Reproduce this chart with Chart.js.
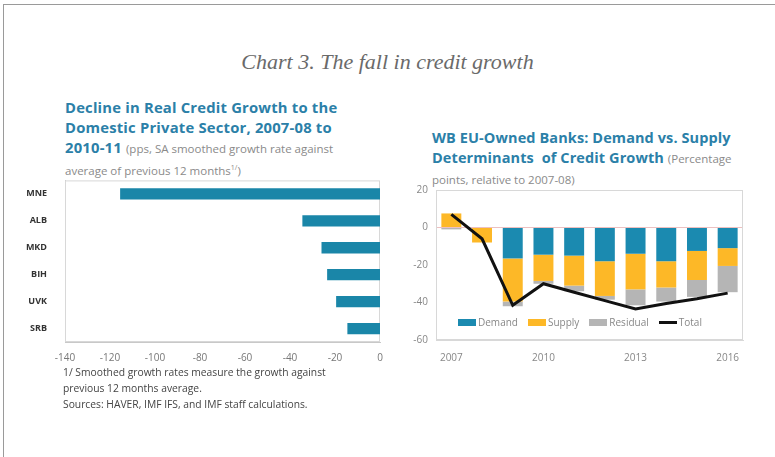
<!DOCTYPE html>
<html>
<head>
<meta charset="utf-8">
<script src="https://cdn.jsdelivr.net/npm/chart.js@4"></script>
<style>
  html, body { margin: 0; padding: 0; background: #fff; }
  body { width: 775px; height: 457px; position: relative; overflow: hidden; font-family: "Open Sans", sans-serif; }
  .frame { position: absolute; left: 3px; top: 4px; right: -2px; bottom: -2px; border-top: 1px solid #9a9a9a; border-left: 1px solid #9a9a9a; }
  .main-title { position: absolute; left: 0; width: 775px; top: 49px; text-align: center; font-family: "Liberation Serif", serif; font-style: italic; font-size: 22px; color: #6a6a6a; }
  .panel-title { position: absolute; font-weight: bold; color: #2b80a8; line-height: 20px; white-space: nowrap; }
  .panel-title .sub { font-weight: normal; color: #8a8a8a; font-size: 11.5px; letter-spacing: 0; }
  .note { position: absolute; left: 63px; top: 364px; font-size: 10.3px; color: #444; line-height: 16px; white-space: nowrap; }
  .legend { position: absolute; left: 458px; top: 315px; display: flex; align-items: center; font-size: 10px; color: #888; white-space: nowrap; }
  .legend span.box { display: inline-block; width: 18px; height: 7px; margin-right: 2px; }
  .legend span.ln { display: inline-block; width: 18px; height: 3px; background: #111; margin-right: 2px; }
  .legend .item { margin-right: 10px; display: flex; align-items: center; }
  canvas { position: absolute; }
</style>
</head>
<body>
<div class="frame"></div>
<div class="main-title">Chart 3. The fall in credit growth</div>

<div class="panel-title" style="left:65px; top:97px; font-size:14.8px; letter-spacing:0.2px;">
  Decline in Real Credit Growth to the<br>
  Domestic Private Sector, 2007-08 to<br>
  2010-11 <span class="sub">(pps, SA smoothed growth rate against</span><br>
  <span class="sub" style="line-height:16px">average of previous 12 months<sup style="font-size:7px; line-height:0">1/</sup>)</span>
</div>

<div class="panel-title" style="left:432px; top:128px; font-size:14.5px; letter-spacing:0.1px;">
  WB EU-Owned Banks: Demand vs. Supply<br>
  Determinants&nbsp; of Credit Growth <span class="sub">(Percentage</span><br>
  <span class="sub">points, relative to 2007-08)</span>
</div>

<canvas id="declineChart" width="375" height="201" style="left:15px; top:165px;"></canvas>
<canvas id="banksChart" width="360" height="187" style="left:395px; top:176px;"></canvas>

<div class="legend">
  <div class="item"><span class="box" style="background:#1b8ab0"></span>Demand</div>
  <div class="item"><span class="box" style="background:#fdb827"></span>Supply</div>
  <div class="item"><span class="box" style="background:#b5b5b5"></span>Residual</div>
  <div class="item"><span class="ln"></span>Total</div>
</div>

<div class="note">
  1/ Smoothed growth rates measure the growth against<br>
  previous 12 months average.<br>
  Sources: HAVER, IMF IFS, and IMF staff calculations.
</div>

<script>
// left panel: decline in real credit growth, pps
const countries = ['MNE', 'ALB', 'MKD', 'BIH', 'UVK', 'SRB'];
const declineValues = [-115.5, -34.5, -26, -23.5, -19.5, -14.5];

// right panel: demand vs supply decomposition, percentage points
const years = ['2007', '2008', '2009', '2010', '2011', '2012', '2013', '2014', '2015', '2016'];
const demand = [0, 0, -16.5, -14.5, -15, -18, -14, -18, -12.5, -11];
const supply = [7.5, -8, -23, -14, -16, -18.5, -19, -14, -15.5, -9.5];
const residual = [-1, 0, -2.5, -1.5, -3, -2, -8.5, -7.5, -9, -14];
const total = [7, -6, -41.5, -30, -34.5, -39, -43.5, -40.5, -38, -35];

const yTicksRight = [20, 0, -20, -40, -60];

// thin box round the plot area
const plotFrame = {
  id: 'plotFrame',
  beforeDatasetsDraw(chart) {
    const { ctx, chartArea: a } = chart;
    ctx.save();
    ctx.strokeStyle = '#d8d8d8';
    ctx.lineWidth = 1;
    ctx.strokeRect(a.left + 0.5, a.top + 0.5, a.width - 1, a.height - 1);
    ctx.restore();
  }
};

Chart.defaults.font.family = '"Open Sans", sans-serif';
Chart.defaults.animation = false;

new Chart(document.getElementById('declineChart'), {
  type: 'bar',
  data: {
    labels: countries,
    datasets: [{
      data: declineValues,
      backgroundColor: '#1a86a8',
      barPercentage: 0.42,
      categoryPercentage: 1,
    }],
  },
  options: {
    indexAxis: 'y',
    responsive: false,
    layout: { padding: { top: 5, right: 10 } },
    plugins: { legend: { display: false }, tooltip: { enabled: false } },
    scales: {
      x: {
        min: -140,
        max: 0,
        ticks: { stepSize: 20, color: '#777', font: { size: 10 }, padding: 2 },
        grid: { display: false },
        border: { color: '#c8c8c8' },
        afterFit: (s) => { s.height = 24; },
      },
      y: {
        ticks: { color: '#333', font: { size: 9, weight: 'bold' }, padding: 10 },
        grid: { display: false },
        border: { color: '#c8c8c8' },
        afterFit: (s) => { s.width = 50; },
      },
    },
  },
  plugins: [plotFrame],
});

new Chart(document.getElementById('banksChart'), {
  type: 'bar',
  data: {
    labels: years,
    datasets: [
      { type: 'line', label: 'Total', data: total, borderColor: '#111', borderWidth: 3, pointRadius: 0, tension: 0, order: 0 },
      { label: 'Demand', data: demand, backgroundColor: '#1b8ab0', order: 1 },
      { label: 'Supply', data: supply, backgroundColor: '#fdb827', order: 1 },
      { label: 'Residual', data: residual, backgroundColor: '#b5b5b5', order: 1 },
    ],
  },
  options: {
    responsive: false,
    layout: { padding: { top: 10, right: 12 } },
    datasets: { bar: { barPercentage: 0.65, categoryPercentage: 1 } },
    plugins: { legend: { display: false }, tooltip: { enabled: false } },
    scales: {
      x: {
        stacked: true,
        ticks: {
          autoSkip: false,
          maxRotation: 0,
          color: '#888',
          font: { size: 10 },
          padding: 4,
          callback: (v, i) => (i % 3 === 0 ? years[i] : ''),
        },
        grid: { display: false },
        border: { color: '#d8d8d8' },
        afterFit: (s) => { s.height = 23; },
      },
      y: {
        stacked: true,
        min: -60,
        max: 20,
        afterBuildTicks: (s) => { s.ticks = yTicksRight.map((v) => ({ value: v })); },
        ticks: { color: '#888', font: { size: 10 }, padding: 8 },
        grid: {
          drawTicks: false,
          color: (c) => (c.tick && c.tick.value === 0 ? 'rgba(225,150,150,0.6)' : 'transparent'),
        },
        border: { color: '#d8d8d8' },
        afterFit: (s) => { s.width = 41; },
      },
    },
  },
  plugins: [plotFrame],
});
</script>
</body>
</html>
